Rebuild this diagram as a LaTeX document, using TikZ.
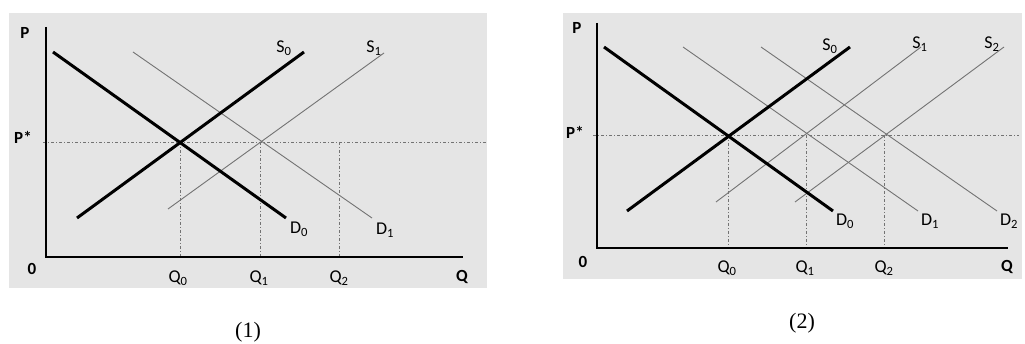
\documentclass[tikz,border=0pt]{standalone}
\usepackage{fontspec}
\setmainfont{Carlito}
\newfontfamily\capfont{Liberation Serif}
\newcommand{\lbl}[2]{#1\textsubscript{#2}}
\begin{document}
\begin{tikzpicture}[x=1pt,y=-1pt,
  bg/.style={fill=black!10,draw=none},
  axis/.style={line width=2.4pt,black},
  thickcurve/.style={line width=3pt,black},
  thincurve/.style={line width=0.9pt,black!55},
  guide/.style={line width=0.9pt,black!55,dash pattern=on 3pt off 2pt on 1pt off 2pt},
  axlabel/.style={font=\fontsize{17}{17}\selectfont\bfseries,inner sep=0pt},
  crvlabel/.style={font=\fontsize{18}{18}\selectfont,inner sep=0pt},
  caplabel/.style={font=\capfont\fontsize{22}{22}\selectfont,inner sep=0pt}]
\useasboundingbox (0,0) rectangle (1025,344);
% ---------- panel 1 ----------
\fill[bg] (9,13) rectangle (487,288);
\coordinate (aO) at (46,257);
\coordinate (aPtop) at (46,27);
\coordinate (aQend) at (463,257);
\coordinate (aPl) at (43,142);
\coordinate (aPr) at (486,142);
\coordinate (aD0a) at (53,52);   \coordinate (aD0b) at (286,218);
\coordinate (aS0a) at (77,218);  \coordinate (aS0b) at (304,52);
\coordinate (aD1a) at (133,52);  \coordinate (aD1b) at (372,218);
\coordinate (aS1a) at (168,209); \coordinate (aS1b) at (384,53);
\coordinate (aV0t) at (180,142); \coordinate (aV0b) at (180,257);
\coordinate (aV1t) at (260,142); \coordinate (aV1b) at (260,257);
\coordinate (aV2t) at (339,142); \coordinate (aV2b) at (339,257);
\draw[guide] (aPl) -- (aPr);
\draw[guide] (aV0t) -- (aV0b);
\draw[guide] (aV1t) -- (aV1b);
\draw[guide] (aV2t) -- (aV2b);
\draw[thincurve] (aD1a) -- (aD1b);
\draw[thincurve] (aS1a) -- (aS1b);
\draw[thickcurve] (aD0a) -- (aD0b);
\draw[thickcurve] (aS0a) -- (aS0b);
\draw[axis] (aPtop) -- (aO) -- (aQend);
\node[axlabel] (aP) at (25,33) {P};
\node[axlabel] (aZ) at (32,269) {0};
\node[axlabel] (aQ) at (462,277) {Q};
\node[axlabel] (aPs) at (23,137) {P*};
\node[crvlabel] (aS0) at (284,48) {\lbl{S}{0}};
\node[crvlabel] (aS1) at (374,48) {\lbl{S}{1}};
\node[crvlabel] (aD0) at (299,229) {\lbl{D}{0}};
\node[crvlabel] (aD1) at (385,230) {\lbl{D}{1}};
\node[crvlabel] (aQ0) at (178,278) {\lbl{Q}{0}};
\node[crvlabel] (aQ1) at (259,278) {\lbl{Q}{1}};
\node[crvlabel] (aQ2) at (339,278) {\lbl{Q}{2}};
\node[caplabel] (cap1) at (248,332) {(1)};
% ---------- panel 2 ----------
\fill[bg] (563,13) rectangle (1022,279);
\coordinate (bO) at (597,248);
\coordinate (bPtop) at (597,23);
\coordinate (bQend) at (1008,248);
\coordinate (bPl) at (593,135);
\coordinate (bPr) at (1019,135);
\coordinate (bD0a) at (604,47);  \coordinate (bD0b) at (833,211);
\coordinate (bS0a) at (627,211); \coordinate (bS0b) at (850,47);
\coordinate (bD1a) at (683,47);  \coordinate (bD1b) at (918,211);
\coordinate (bD2a) at (761,47);  \coordinate (bD2b) at (997,211);
\coordinate (bS1a) at (716,202); \coordinate (bS1b) at (921,47);
\coordinate (bS2a) at (795,202); \coordinate (bS2b) at (1004,47);
\coordinate (bV0t) at (728,135); \coordinate (bV0b) at (728,248);
\coordinate (bV1t) at (806,135); \coordinate (bV1b) at (806,248);
\coordinate (bV2t) at (884,135); \coordinate (bV2b) at (884,248);
\draw[guide] (bPl) -- (bPr);
\draw[guide] (bV0t) -- (bV0b);
\draw[guide] (bV1t) -- (bV1b);
\draw[guide] (bV2t) -- (bV2b);
\draw[thincurve] (bD1a) -- (bD1b);
\draw[thincurve] (bD2a) -- (bD2b);
\draw[thincurve] (bS1a) -- (bS1b);
\draw[thincurve] (bS2a) -- (bS2b);
\draw[thickcurve] (bD0a) -- (bD0b);
\draw[thickcurve] (bS0a) -- (bS0b);
\draw[axis] (bPtop) -- (bO) -- (bQend);
\node[axlabel] (bP) at (577,28) {P};
\node[axlabel] (bZ) at (583,262) {0};
\node[axlabel] (bQ) at (1007,267) {Q};
\node[axlabel] (bPs) at (575,132) {P*};
\node[crvlabel] (bS0) at (830,46) {\lbl{S}{0}};
\node[crvlabel] (bS1) at (920,44) {\lbl{S}{1}};
\node[crvlabel] (bS2) at (992,44) {\lbl{S}{2}};
\node[crvlabel] (bD0) at (845,221) {\lbl{D}{0}};
\node[crvlabel] (bD1) at (930,221) {\lbl{D}{1}};
\node[crvlabel] (bD2) at (1009,221) {\lbl{D}{2}};
\node[crvlabel] (bQ0) at (727,268) {\lbl{Q}{0}};
\node[crvlabel] (bQ1) at (805,268) {\lbl{Q}{1}};
\node[crvlabel] (bQ2) at (884,268) {\lbl{Q}{2}};
\node[caplabel] (cap2) at (802,323) {(2)};
\end{tikzpicture}
\end{document}
